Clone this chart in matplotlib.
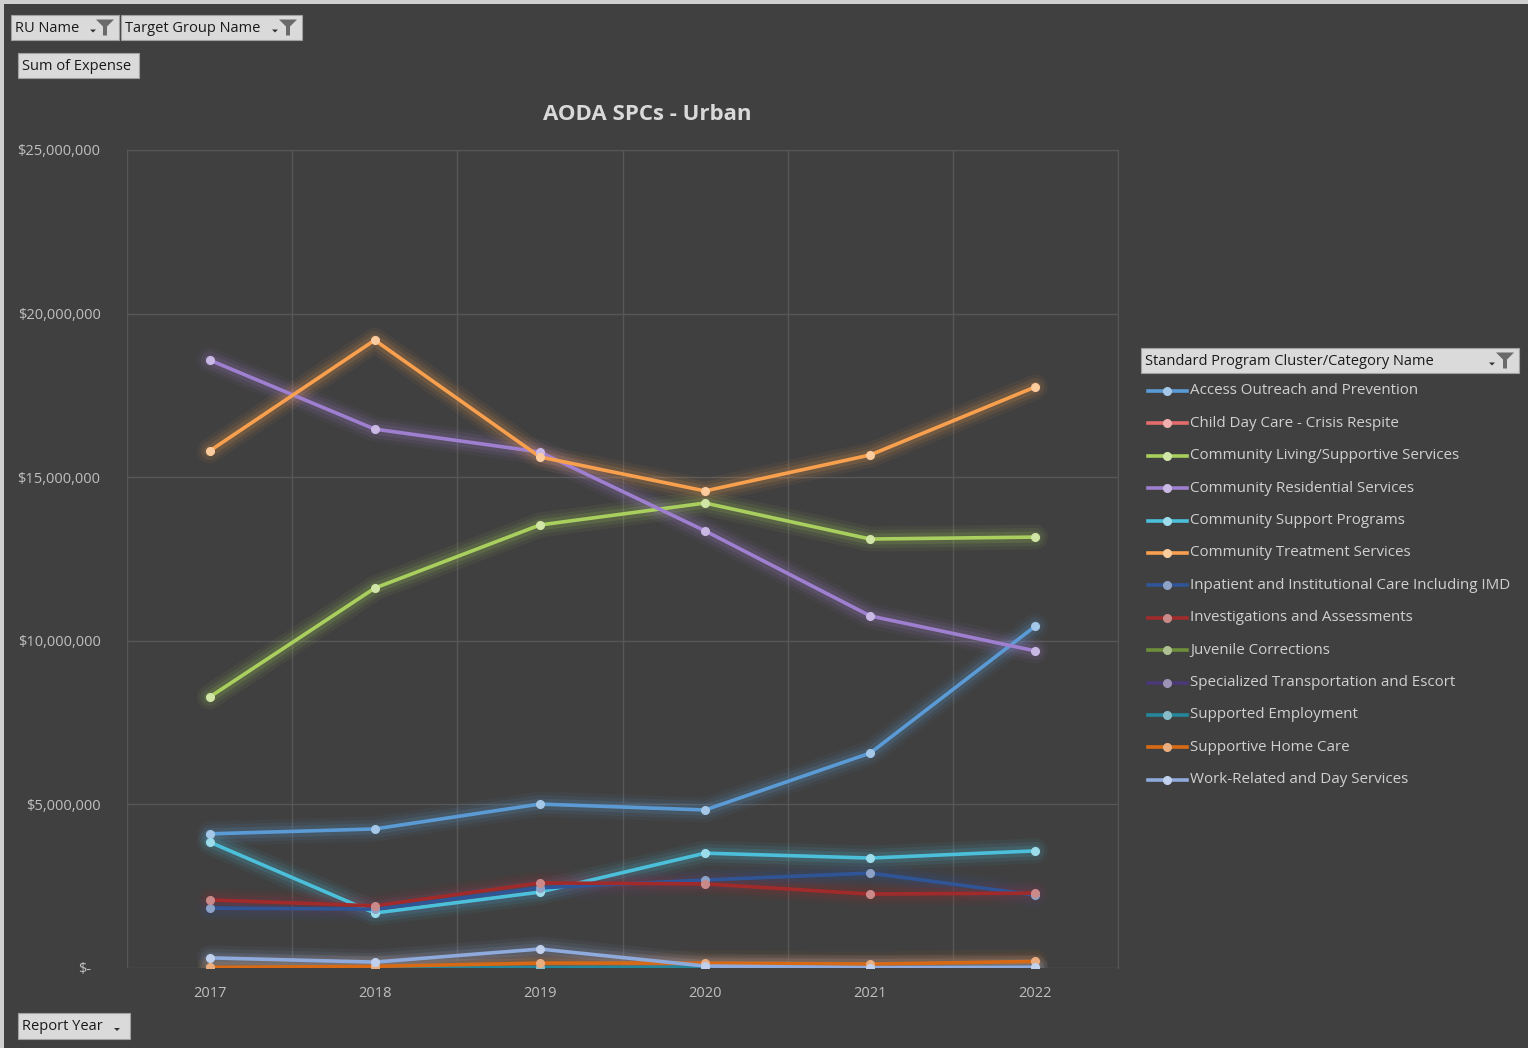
import matplotlib
matplotlib.use("Agg")
import matplotlib.pyplot as plt
from matplotlib.ticker import FuncFormatter, FixedLocator
from matplotlib.patches import Rectangle, Polygon
from matplotlib.lines import Line2D
import matplotlib.colors as mcolors
import numpy as np

plt.rcParams['font.family'] = ['Open Sans', 'DejaVu Sans']

years = ['2017', '2018', '2019', '2020', '2021', '2022']

series_names = [
    'Access Outreach and Prevention',
    'Child Day Care - Crisis Respite',
    'Community Living/Supportive Services',
    'Community Residential Services',
    'Community Support Programs',
    'Community Treatment Services',
    'Inpatient and Institutional Care Including IMD',
    'Investigations and Assessments',
    'Juvenile Corrections',
    'Specialized Transportation and Escort',
    'Supported Employment',
    'Supportive Home Care',
    'Work-Related and Day Services',
]

access_outreach = [4100000, 4250000, 5010000, 4830000, 6570000, 10450000]
child_day_care = [0, 0, 0, 0, 0, 0]
community_living = [8280000, 11610000, 13540000, 14210000, 13110000, 13170000]
community_residential = [18580000, 16470000, 15770000, 13360000, 10760000, 9690000]
community_support = [3850000, 1680000, 2320000, 3510000, 3360000, 3580000]
community_treatment = [15800000, 19190000, 15620000, 14580000, 15680000, 17760000]
inpatient = [1830000, 1800000, 2450000, 2690000, 2900000, 2230000]
investigations = [2080000, 1900000, 2600000, 2570000, 2260000, 2290000]
juvenile = [0, 0, 0, 0, 0, 0]
specialized_transport = [0, 0, 0, 0, 0, 0]
supported_employment = [10000, 10000, 10000, 20000, 10000, 10000]
supportive_home_care = [20000, 50000, 150000, 150000, 120000, 200000]
work_related = [310000, 180000, 580000, 60000, 10000, 20000]

series_values = [access_outreach, child_day_care, community_living,
                 community_residential, community_support, community_treatment,
                 inpatient, investigations, juvenile, specialized_transport,
                 supported_employment, supportive_home_care, work_related]

colors = ['#5B9BD5', '#E46C6C', '#A9D05E', '#9F7FCF', '#4CC0DA', '#F9A04F',
          '#2F5597', '#A12B2B', '#6E8F3A', '#4B3878', '#23869B', '#D86A16',
          '#8FAADC']

BG = '#404040'
W, H = 1528, 1048

fig = plt.figure(figsize=(W / 100, H / 100), dpi=100, facecolor=BG)

ax = fig.add_axes([127 / W, 1 - 968 / H, (1118 - 127) / W, (968 - 150) / H])
ax.set_facecolor(BG)


def lighter(c, f=0.45):
    r, g, b = mcolors.to_rgb(c)
    return (r + (1 - r) * f, g + (1 - g) * f, b + (1 - b) * f)


x = np.arange(len(years))
for vals, col in zip(series_values, colors):
    # soft glow under each line
    for lw, a in [(18, 0.06), (13, 0.09), (8, 0.14)]:
        ax.plot(x, vals, color=col, lw=lw, alpha=a, solid_capstyle='round', zorder=2)
    ax.plot(x, vals, color=col, lw=2.6, zorder=3)
    ax.plot(x, vals, ls='none', marker='o', ms=5.5, mfc=lighter(col),
            mec=lighter(col), zorder=4)

ax.set_xlim(-0.5, 5.5)
ax.set_ylim(0, 25000000)
ax.set_xticks(x)
ax.set_xticklabels(years)
ax.xaxis.set_minor_locator(FixedLocator(np.arange(-0.5, 6, 1)))
ax.set_yticks(np.arange(0, 25000001, 5000000))
ax.yaxis.set_major_formatter(FuncFormatter(
    lambda v, p: '$-' if v == 0 else f'${v:,.0f}'))
ax.grid(True, which='minor', axis='x', color='#575757', lw=1)
ax.grid(True, which='major', axis='y', color='#575757', lw=1)
ax.tick_params(which='both', length=0, colors='#bfbfbf', labelsize=10.5)
ax.tick_params(axis='y', pad=19)
ax.tick_params(axis='x', pad=13)
for s in ['left', 'bottom']:
    ax.spines[s].set_visible(False)
for s in ['top', 'right']:
    ax.spines[s].set_color('#575757')
# "$-" sits a little left of the column edge in the original
ax.yaxis.get_major_ticks()[0].label1.set_x(-0.009)

# overlay in pixel coordinates for title, buttons and legend
ov = fig.add_axes([0, 0, 1, 1], zorder=10)
ov.set_xlim(0, W)
ov.set_ylim(H, 0)
ov.axis('off')
ov.patch.set_alpha(0)

# outer frame
ov.add_patch(Rectangle((0, 0), W, 3.5, color='#d0d0d0', lw=0))
ov.add_patch(Rectangle((0, 0), 3.5, H, color='#d0d0d0', lw=0))

ov.text(647, 115, 'AODA SPCs - Urban', ha='center', va='center',
        fontsize=16, fontweight='bold', color='#d9d9d9')


def button(x0, y0, x1, y1, label, arrow=None, funnel=None):
    ov.add_patch(Rectangle((x0, y0), x1 - x0, y1 - y0, facecolor='#dadada',
                           edgecolor='#a0a0a0', lw=0.8))
    ov.text(x0 + 4, (y0 + y1) / 2 + 1, label, ha='left', va='center',
            fontsize=10.5, color='#1a1a1a')
    ym = (y0 + y1) / 2
    if arrow is not None:
        ov.add_patch(Polygon([(arrow - 3, ym + 2), (arrow + 3, ym + 2), (arrow, ym + 5)],
                             closed=True, color='#333333', lw=0))
    if funnel is not None:
        f = funnel
        ov.add_patch(Polygon([(f - 9, ym - 8), (f + 9, ym - 8), (f + 2, ym - 1),
                              (f + 2, ym + 8), (f - 2, ym + 8), (f - 2, ym - 1)],
                             closed=True, color='#6a6a6a', lw=0))


button(11, 15, 119, 40, 'RU Name', arrow=93, funnel=105)
button(121, 15, 302, 40, 'Target Group Name', arrow=275, funnel=288)
button(18, 53, 139, 78, 'Sum of Expense')
button(18, 1013, 130, 1039, 'Report Year', arrow=117)
button(1141, 348, 1519, 373, 'Standard Program Cluster/Category Name',
       arrow=1492, funnel=1505)

# legend entries
for i, (name, col) in enumerate(zip(series_names, colors)):
    yy = 391 + i * 32.4
    ov.add_line(Line2D([1148, 1187], [yy, yy], color=col, lw=2.6))
    ov.add_line(Line2D([1167], [yy], marker='o', ms=5.5, color=lighter(col), ls='none'))
    ov.text(1190, yy, name, ha='left', va='center', fontsize=10.9, color='#d0d0d0')

fig.savefig('out.png', dpi=100, facecolor=BG)
